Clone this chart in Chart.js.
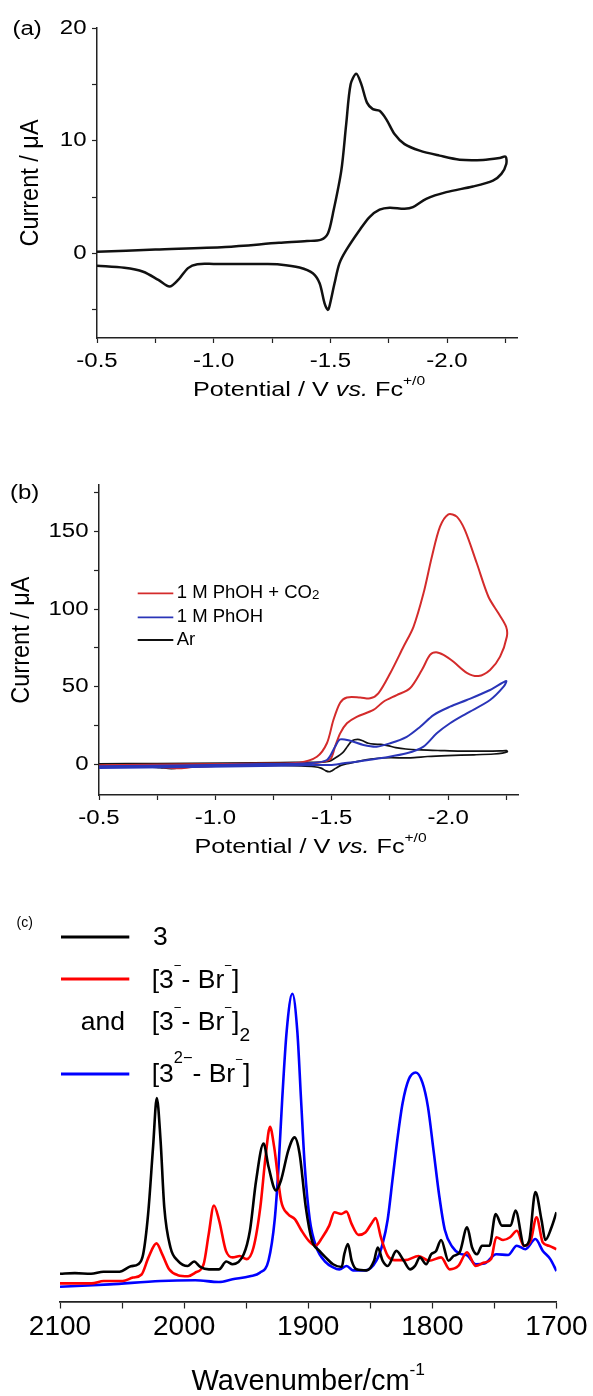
<!DOCTYPE html>
<html>
<head>
<meta charset="utf-8">
<script src="https://cdn.jsdelivr.net/npm/chart.js@4.4.1/dist/chart.umd.min.js"></script>
<style>
  body { margin: 0; background: #fff; }
  #wrap { position: relative; width: 593px; height: 1396px; }
  canvas { position: absolute; left: 0; }
</style>
</head>
<body>
<div id="wrap">
  <canvas id="cvAr" width="593" height="420" style="top:0px"></canvas>
  <canvas id="cvCat" width="593" height="440" style="top:420px"></canvas>
  <canvas id="irSpec" width="593" height="536" style="top:860px"></canvas>
</div>
<script>
// ---------- data ----------
// (a) CV under Ar, scan order (potential V vs Fc+/0, current uA)
const arPotential = [-0.50, -0.75, -1.05, -1.28, -1.40, -1.461, -1.49, -1.511, -1.547, -1.568, -1.587, -1.611, -1.633, -1.657, -1.682, -1.711, -1.740, -1.775, -1.818, -1.883, -1.968, -2.054, -2.154, -2.226, -2.251,
  -2.254, -2.233, -2.197, -2.111, -1.997, -1.911, -1.854, -1.818, -1.754, -1.711, -1.668, -1.625, -1.568, -1.539, -1.518, -1.496, -1.489, -1.475, -1.454, -1.425, -1.368, -1.282, -1.217, -1.00, -0.93, -0.89, -0.85, -0.811, -0.763, -0.698, -0.617, -0.50];
const arCurrent = [0.15, 0.35, 0.58, 0.94, 1.10, 1.23, 1.8, 3.53, 7.35, 11.47, 15.0, 15.94, 15.0, 13.38, 12.8, 12.65, 11.9, 10.6, 9.7, 9.12, 8.68, 8.32, 8.3, 8.47, 8.59,
  7.94, 7.06, 6.47, 5.94, 5.44, 4.85, 4.11, 3.97, 4.06, 3.88, 3.23, 2.06, 0.29, -0.88, -2.65, -4.71, -5.0, -4.41, -2.65, -1.76, -1.24, -0.97, -0.94, -0.93, -0.95, -1.3, -2.3, -2.94, -2.35, -1.62, -1.27, -1.09];

// (b) 1 M PhOH + CO2
const co2Potential = [-0.50, -0.90, -1.20, -1.36, -1.436, -1.479, -1.507, -1.536, -1.565, -1.622, -1.665, -1.700, -1.751, -1.808, -1.851, -1.894, -1.930, -1.965, -2.001, -2.037, -2.072, -2.123, -2.173, -2.216, -2.249,
  -2.252, -2.223, -2.180, -2.130, -2.080, -2.023, -1.980, -1.948, -1.922, -1.887, -1.836, -1.779, -1.722, -1.679, -1.607, -1.565, -1.536, -1.514, -1.493, -1.436, -1.30, -1.00, -0.90, -0.84, -0.76, -0.50];
const co2Current = [-0.8, -0.2, 0.4, 0.9, 4.7, 13.4, 28.4, 39.6, 43.0, 43.0, 42.4, 45.6, 58.6, 75.7, 88.6, 110.2, 133.8, 153.2, 161.2, 159.7, 151.0, 129.6, 108.0, 97.3, 88.6,
  82.2, 69.3, 60.7, 56.8, 58.9, 66.0, 70.4, 72.1, 70.4, 60.7, 48.9, 44.5, 40.2, 34.9, 30.5, 26.3, 19.8, 11.2, 3.0, 0.8, -0.5, -1.2, -2.0, -2.8, -2.0, -1.8];

// (b) 1 M PhOH
const phohPotential = [-0.50, -0.90, -1.20, -1.40, -1.479, -1.514, -1.536, -1.579, -1.636, -1.693, -1.751, -1.822, -1.880, -1.937, -2.008, -2.080, -2.180, -2.249,
  -2.238, -2.180, -2.080, -2.008, -1.951, -1.894, -1.822, -1.722, -1.607, -1.550, -1.493, -1.436, -1.20, -0.90, -0.50];
const phohCurrent = [-1.5, -0.8, 0.0, 0.5, 2.6, 11.2, 15.9, 15.0, 12.3, 11.2, 13.4, 17.6, 24.1, 31.6, 37.0, 41.3, 47.8, 53.6,
  49.9, 41.3, 32.7, 26.3, 19.8, 11.2, 6.9, 4.1, 1.5, 0.45, -0.6, -0.6, -1.2, -2.0, -2.5];

// (c) IR spectra (wavenumber cm-1, absorbance arb. units)
const ir3Wave = [2100, 2088, 2075, 2065, 2052, 2043, 2037, 2033, 2029, 2025, 2022, 2019, 2016, 2011, 2005, 1997, 1992, 1987, 1980, 1972, 1966, 1961, 1952, 1947, 1942, 1936, 1932, 1926, 1922, 1916, 1911, 1907, 1902, 1897, 1891, 1886, 1880, 1873, 1871, 1868, 1865, 1861, 1853, 1847, 1844, 1840, 1836, 1829, 1823, 1818, 1814, 1810, 1805, 1801, 1797, 1793, 1787, 1783, 1778, 1772, 1768, 1764, 1760, 1754, 1749, 1744, 1737, 1733, 1726, 1722, 1717, 1712, 1709, 1704, 1700];
const ir3Abs = [8.1, 8.3, 8.1, 8.7, 8.7, 10.3, 10.9, 13.8, 25.6, 45.3, 59.5, 47.2, 27.6, 15.8, 11.9, 10.4, 11.7, 10.1, 9.4, 9.4, 11.7, 10.9, 13.8, 20.7, 35.4, 46.2, 39.4, 32.5, 35.4, 44.3, 48.0, 43.3, 27.6, 17.8, 14.8, 12.9, 10.9, 10.1, 13.8, 16.8, 11.9, 9.4, 9.1, 11.9, 15.8, 11.9, 10.4, 14.8, 11.9, 9.4, 10.4, 12.9, 10.9, 13.8, 14.8, 18.0, 11.9, 13.3, 14.4, 21.7, 15.8, 13.8, 16.3, 16.3, 25.6, 22.2, 22.2, 26.6, 16.3, 17.8, 32.0, 23.7, 18.0, 21.7, 26.1];

const irAnionWave = [2100, 2074.5, 2064.8, 2049.5, 2041.2, 2034.3, 2028.7, 2022.3, 2017.6, 2012.1, 2005.1, 1996.8, 1991.3, 1984.3, 1980.2, 1976, 1971.8, 1966.3, 1960.8, 1955.2, 1949.6, 1944.1, 1938.6, 1934.4, 1930.8, 1927.5, 1921.9, 1916.4, 1910.8, 1905.3, 1899.7, 1894.2, 1888.6, 1883.1, 1878.9, 1873.4, 1869.2, 1865.1, 1859.5, 1854, 1848.4, 1845.7, 1841.5, 1835.9, 1830.4, 1822, 1811.1, 1802.7, 1793, 1786, 1779.1, 1772.1, 1765.2, 1758.2, 1752.7, 1748.5, 1743, 1737.4, 1731.9, 1726.3, 1720.8, 1716.1, 1711.1, 1706.1, 1700];
const irAnionAbs = [5.3, 5.3, 6.0, 6.0, 7.0, 7.9, 12.9, 17.0, 13.8, 9.4, 7.7, 7.4, 8.4, 10.9, 19.7, 28.1, 23.7, 14.8, 12.9, 13.3, 12.4, 15.8, 27.6, 42.3, 51.1, 45.3, 29.5, 25.6, 24.1, 20.7, 17.8, 16.3, 18.8, 22.2, 26.1, 25.6, 26.3, 22.7, 19.5, 20.2, 23.2, 24.4, 18.8, 13.3, 12.1, 12.1, 13.3, 11.9, 12.9, 9.4, 10.4, 14.4, 10.4, 11.4, 12.4, 18.8, 18.0, 18.8, 20.7, 16.3, 17.8, 24.6, 17.3, 16.3, 15.3];

const irDianionWave = [2100, 2060, 2019, 1991, 1972, 1961, 1947, 1939, 1932, 1927, 1924, 1921, 1917.4, 1912.8, 1908.8, 1905.8, 1902.7, 1898.8, 1893.6, 1886, 1880, 1875, 1869, 1864, 1854, 1845, 1840, 1836, 1832, 1828, 1824, 1819, 1813.4, 1808, 1803.6, 1799, 1794.5, 1790, 1784, 1778, 1772, 1765, 1758, 1748.5, 1739, 1732, 1725, 1717, 1711, 1705, 1700];
const irDianionAbs = [4.3, 5.0, 6.0, 6.2, 5.7, 6.5, 7.4, 8.4, 12, 24, 39, 59, 79, 90, 79, 59, 39, 24, 16, 11.5, 10, 9.4, 10.4, 9.1, 9.1, 12, 17, 24, 36, 48, 58, 65, 67, 64, 57, 44, 31, 21, 16, 14, 13.5, 10.9, 11.1, 13.8, 13.6, 16.3, 15.3, 18.3, 14.8, 12.4, 8.9];

// ticks and labels
const cvXTicks = [-0.5, -0.75, -1.0, -1.25, -1.5, -1.75, -2.0, -2.25];
const cvXLabels = ['-0.5', '-1.0', '-1.5', '-2.0'];
const arYTicks = [-5, 0, 5, 10, 15, 20];
const arYLabels = ['0', '10', '20'];
const catYTicks = [0, 25, 50, 75, 100, 125, 150, 175];
const catYLabels = ['0', '50', '100', '150'];
const irTicks = [2100, 2050, 2000, 1950, 1900, 1850, 1800, 1750, 1700];
const irLabels = ['2100', '2000', '1900', '1800', '1700'];
const catLegend = ['1 M PhOH + CO2', '1 M PhOH', 'Ar'];

// ---------- helpers ----------
const FONT = "'Liberation Sans', Arial, Helvetica, sans-serif";
const SX = 1.2; // panels (a) and (b) have horizontally stretched lettering

const toXY = (xs, ys) => xs.map((x, i) => ({x: x, y: ys[i]}));

// draws a run of text pieces (superscript, subscript, italic) on the chart canvas
function drawRich(ctx, segs, x, y, o) {
  const base = o.size;
  const parts = segs.map(s => {
    const small = s.sup || s.sub;
    const sz = base * (s.sc || (small ? 0.62 : 1));
    const font = (s.italic ? 'italic ' : '') + sz.toFixed(1) + 'px ' + FONT;
    ctx.font = font;
    const dy = base * (s.dy !== undefined ? s.dy : s.sup ? -0.4 : s.sub ? 0.45 : 0);
    return {t: s.t, font: font, dy: dy, w: ctx.measureText(s.t).width};
  });
  const total = parts.reduce((a, p) => a + p.w, 0);
  let cx = o.align === 'center' ? -total / 2 : o.align === 'right' ? -total : 0;
  ctx.save();
  ctx.translate(x, y);
  ctx.scale(o.sx || 1, 1);
  if (o.rotate) ctx.rotate(-Math.PI / 2);
  ctx.fillStyle = o.color || '#000';
  ctx.textAlign = 'left';
  ctx.textBaseline = 'middle';
  parts.forEach(p => { ctx.font = p.font; ctx.fillText(p.t, cx, p.dy); cx += p.w; });
  ctx.restore();
}

function fixedTicks(values) {
  return scale => { scale.ticks = values.map(v => ({value: v})); };
}

function axisOpts(tickLen, lineW) {
  return {
    border: {display: true, color: '#222', width: lineW},
    grid: {drawOnChartArea: false, drawTicks: true, tickLength: tickLen, tickColor: '#222', tickWidth: 1.2},
    ticks: {display: false}
  };
}

// axis text for the two CV panels
function cvText(cfg) {
  return {
    id: 'cvText',
    afterDraw(chart) {
      const ctx = chart.ctx;
      const xs = chart.scales.x, ys = chart.scales.y, area = chart.chartArea;
      cvXLabels.forEach(lbl => {
        drawRich(ctx, [{t: lbl}], xs.getPixelForValue(parseFloat(lbl)), area.bottom + 23.5, {size: 20, sx: SX, align: 'center'});
      });
      cfg.yLabels.forEach(lbl => {
        drawRich(ctx, [{t: lbl}], area.left - 10.5, ys.getPixelForValue(parseFloat(lbl)), {size: 20, sx: SX, align: 'right'});
      });
      drawRich(ctx, [{t: 'Potential / V '}, {t: 'vs.', italic: true}, {t: ' Fc'}, {t: '+/0', sup: true}],
        (area.left + area.right) / 2 + 2, area.bottom + 52, {size: 21, sx: SX, align: 'center'});
      drawRich(ctx, [{t: 'Current / μA'}], cfg.yTitleX, (area.top + area.bottom) / 2,
        {size: 23.5, sx: 1.1, align: 'center', rotate: true});
      drawRich(ctx, [{t: cfg.panel}], cfg.panelX, cfg.panelY, {size: 20, sx: SX});
      if (cfg.extra) cfg.extra(ctx);
    }
  };
}

// ---------- (a) ----------
const aX = Object.assign(axisOpts(5, 1.5), {
  type: 'linear', reverse: true, min: -2.3, max: -0.5,
  afterBuildTicks: fixedTicks(cvXTicks),
  afterFit: s => { s.height = 82; }
});
const aY = Object.assign(axisOpts(5, 1.5), {
  type: 'linear', min: -7.5, max: 20,
  afterBuildTicks: fixedTicks(arYTicks),
  afterFit: s => { s.width = 97; }
});

new Chart(document.getElementById('cvAr'), {
  type: 'line',
  data: {
    datasets: [{
      label: 'Ar',
      data: toXY(arPotential, arCurrent),
      borderColor: '#111',
      borderWidth: 2.5,
      pointRadius: 0,
      tension: 0.3,
      fill: false
    }]
  },
  options: {
    responsive: false,
    animation: false,
    devicePixelRatio: 1,
    events: [],
    layout: {padding: {top: 28, right: 76, left: 0, bottom: 0}},
    scales: {x: aX, y: aY},
    plugins: {legend: {display: false}, tooltip: {enabled: false}}
  },
  plugins: [cvText({yLabels: arYLabels, yTitleX: 31, panel: '(a)', panelX: 12.5, panelY: 29})]
});

// ---------- (b) ----------
const bX = Object.assign(axisOpts(5, 1.5), {
  type: 'linear', reverse: true, min: -2.3, max: -0.5,
  afterBuildTicks: fixedTicks(cvXTicks),
  afterFit: s => { s.height = 65; }
});
const bY = Object.assign(axisOpts(5, 1.5), {
  type: 'linear', min: -20, max: 180,
  afterBuildTicks: fixedTicks(catYTicks),
  afterFit: s => { s.width = 99; }
});
const catColors = ['#d42b2b', '#2a35b8', '#111'];

function catLegendDraw(ctx) {
  const rows = [173.3, 197.3, 220];
  catLegend.forEach((lbl, i) => {
    ctx.save();
    ctx.strokeStyle = catColors[i];
    ctx.lineWidth = 1.8;
    ctx.beginPath();
    ctx.moveTo(137.7, rows[i]);
    ctx.lineTo(173.3, rows[i]);
    ctx.stroke();
    ctx.restore();
    const segs = lbl.endsWith('CO2') ? [{t: lbl.slice(0, -1)}, {t: '2', sc: 0.72, dy: 0.1}] : [{t: lbl}];
    drawRich(ctx, segs, 176.7, rows[i], {size: 18.5});
  });
}

new Chart(document.getElementById('cvCat'), {
  type: 'line',
  data: {
    datasets: [{
      label: catLegend[0],
      data: toXY(co2Potential, co2Current),
      borderColor: catColors[0],
      borderWidth: 2,
      pointRadius: 0,
      tension: 0.3,
      fill: false,
      order: 1
    }, {
      label: catLegend[1],
      data: toXY(phohPotential, phohCurrent),
      borderColor: catColors[1],
      borderWidth: 2,
      pointRadius: 0,
      tension: 0.3,
      fill: false,
      order: 0
    }, {
      label: catLegend[2],
      data: toXY(arPotential, arCurrent),
      borderColor: catColors[2],
      borderWidth: 1.7,
      pointRadius: 0,
      tension: 0.3,
      fill: false,
      order: 2
    }]
  },
  options: {
    responsive: false,
    animation: false,
    devicePixelRatio: 1,
    events: [],
    layout: {padding: {top: 65.2, right: 75, left: 0, bottom: 0}},
    scales: {x: bX, y: bY},
    plugins: {legend: {display: false}, tooltip: {enabled: false}}
  },
  plugins: [cvText({yLabels: catYLabels, yTitleX: 22, panel: '(b)', panelX: 10, panelY: 73, extra: catLegendDraw})]
});

// ---------- (c) ----------
const irColors = ['#000', '#ff0000', '#0000ff'];
const cX = Object.assign(axisOpts(7, 1.8), {
  type: 'linear', reverse: true, min: 1700, max: 2100,
  afterBuildTicks: fixedTicks(irTicks),
  afterFit: s => { s.height = 94.5; }
});

const irText = {
  id: 'irText',
  afterDraw(chart) {
    const ctx = chart.ctx;
    const xs = chart.scales.x, area = chart.chartArea;
    irLabels.forEach(lbl => {
      drawRich(ctx, [{t: lbl}], xs.getPixelForValue(parseFloat(lbl)), area.bottom + 26, {size: 28, align: 'center'});
    });
    drawRich(ctx, [{t: 'Wavenumber/cm'}, {t: '-1', sup: true, sc: 0.6, dy: -0.38}],
      (area.left + area.right) / 2, area.bottom + 80, {size: 29, align: 'center'});
    drawRich(ctx, [{t: '(c)'}], 16.5, 63, {size: 14});

    // legend
    const rows = [77, 119, 214];
    rows.forEach((y, i) => {
      ctx.save();
      ctx.strokeStyle = irColors[i];
      ctx.lineWidth = 2.8;
      ctx.beginPath();
      ctx.moveTo(61, y);
      ctx.lineTo(129.3, y);
      ctx.stroke();
      ctx.restore();
    });
    const o = {size: 26.5};
    const minus = {t: '−', sup: true, sc: 0.5, dy: -0.55};
    drawRich(ctx, [{t: '3'}], 153, 77.5, o);
    drawRich(ctx, [{t: '[3'}, minus, {t: '- Br'}, minus, {t: ']'}], 151.7, 121, o);
    drawRich(ctx, [{t: 'and'}], 125, 162.5, Object.assign({align: 'right'}, o));
    drawRich(ctx, [{t: '[3'}, minus, {t: '- Br'}, minus, {t: ']'}, {t: '2', sub: true, sc: 0.72, dy: 0.5}], 151.7, 162.5, o);
    drawRich(ctx, [{t: '[3'}, {t: '2−', sup: true, dy: -0.62}, {t: '- Br'}, minus, {t: ']'}], 151.7, 215, o);
  }
};

new Chart(document.getElementById('irSpec'), {
  type: 'line',
  data: {
    datasets: [{
      label: '3',
      data: toXY(ir3Wave, ir3Abs),
      borderColor: irColors[0],
      order: 0
    }, {
      label: '[3- - Br-] and [3- - Br-]2',
      data: toXY(irAnionWave, irAnionAbs),
      borderColor: irColors[1],
      order: 1
    }, {
      label: '[32- - Br-]',
      data: toXY(irDianionWave, irDianionAbs),
      borderColor: irColors[2],
      order: 2
    }]
  },
  options: {
    responsive: false,
    animation: false,
    devicePixelRatio: 1,
    events: [],
    layout: {padding: {top: 58.6, right: 36.5, left: 60, bottom: 0}},
    elements: {
      line: {borderWidth: 2.6, cubicInterpolationMode: 'monotone', fill: false},
      point: {radius: 0}
    },
    scales: {
      x: cX,
      y: {type: 'linear', display: false, min: 0, max: 112}
    },
    plugins: {legend: {display: false}, tooltip: {enabled: false}}
  },
  plugins: [irText]
});
</script>
</body>
</html>
